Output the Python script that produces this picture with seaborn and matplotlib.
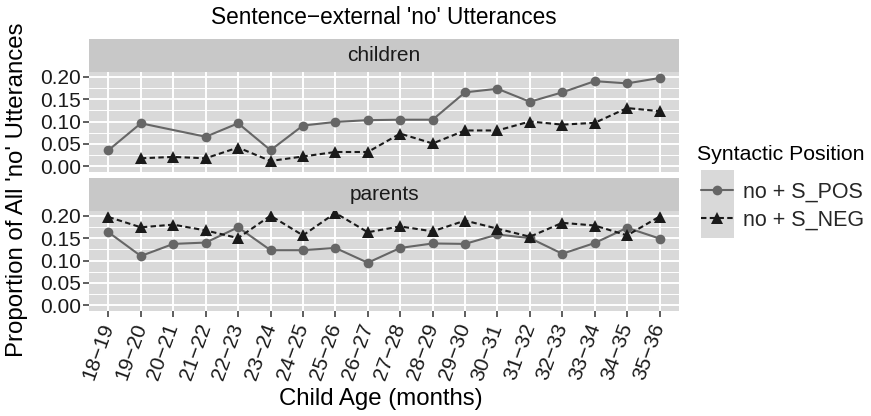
import numpy as np
import pandas as pd
import matplotlib
matplotlib.use("Agg")
import matplotlib.pyplot as plt
import seaborn as sns
from matplotlib.lines import Line2D
from matplotlib.patches import Rectangle

# ---------------- data ----------------
age_bins = ["18−19", "19−20", "20−21", "21−22", "22−23", "23−24", "24−25", "25−26",
            "26−27", "27−28", "28−29", "29−30", "30−31", "31−32", "32−33", "33−34",
            "34−35", "35−36"]
nan = np.nan
children_pos = [0.036, 0.096, nan, 0.066, 0.096, 0.036, 0.091, 0.099, 0.103, 0.104,
                0.104, 0.165, 0.173, 0.144, 0.165, 0.190, 0.185, 0.197]
children_neg = [nan, 0.018, 0.021, 0.018, 0.042, 0.012, 0.022, 0.032, 0.032, 0.073,
                0.051, 0.080, 0.080, 0.100, 0.093, 0.097, 0.130, 0.123]
parents_pos = [0.163, 0.110, 0.137, 0.140, 0.174, 0.123, 0.123, 0.128, 0.095, 0.128,
               0.138, 0.137, 0.158, 0.150, 0.115, 0.139, 0.173, 0.149]
parents_neg = [0.197, 0.174, 0.180, 0.167, 0.150, 0.200, 0.156, 0.206, 0.163, 0.176,
               0.165, 0.189, 0.171, 0.153, 0.184, 0.178, 0.156, 0.198]
speakers = ["children", "parents"]
positions = ["no + S_POS", "no + S_NEG"]

rows = []
for spk, pos_vals, neg_vals in [("children", children_pos, children_neg),
                                ("parents", parents_pos, parents_neg)]:
    for lab, vals in [(positions[0], pos_vals), (positions[1], neg_vals)]:
        for i, (age, v) in enumerate(zip(age_bins, vals)):
            rows.append({"speaker": spk, "age": age, "xpos": i,
                         "Syntactic Position": lab, "prop": v})
df = pd.DataFrame(rows).dropna()

# ---------------- style ----------------
sns.set_style("white")
plt.rcParams["font.family"] = ["Liberation Sans", "DejaVu Sans"]

W, H = 871, 416
fig = plt.figure(figsize=(W / 100, H / 100), dpi=100)

panel_bg = "#D9D9D9"
strip_bg = "#C8C8C8"
col_pos = "#666666"
col_neg = "#1A1A1A"
palette = {positions[0]: col_pos, positions[1]: col_neg}
markers = {positions[0]: "o", positions[1]: "^"}
dashes = {positions[0]: "", positions[1]: (2.6, 1.6)}

def fx(px):
    return px / W

def fy(py):
    return 1 - py / H

left, right = 89, 679
panels = {"children": (71.5, 171.5), "parents": (210.5, 310.5)}
strips = {"children": (39, 71.5), "parents": (178, 210.5)}

for spk in speakers:
    top, bot = panels[spk]
    ax = fig.add_axes([fx(left), fy(bot), fx(right - left), (bot - top) / H])
    ax.set_facecolor(panel_bg)
    sub = df[df["speaker"] == spk]
    sns.lineplot(data=sub, x="xpos", y="prop", hue="Syntactic Position",
                 style="Syntactic Position", hue_order=positions, style_order=positions,
                 palette=palette, markers=markers, dashes=dashes, linewidth=1.5,
                 markersize=7, markeredgewidth=0, sort=True, legend=False, ax=ax)
    for ln in ax.lines:
        if ln.get_marker() == "^":
            ln.set_markersize(8.5)
        ln.set_zorder(3)
    ax.set_xlim(-0.6, len(age_bins) - 0.4)
    ax.set_ylim(-0.0115, 0.2115)
    ax.set_xticks(range(len(age_bins)))
    ax.set_yticks([0, 0.05, 0.10, 0.15, 0.20])
    ax.set_yticklabels(["0.00", "0.05", "0.10", "0.15", "0.20"])
    ax.set_yticks([0.025, 0.075, 0.125, 0.175], minor=True)
    ax.grid(which="major", color="white", linewidth=1.4)
    ax.grid(which="minor", axis="y", color="white", linewidth=0.7)
    ax.set_axisbelow(True)
    for s in ax.spines.values():
        s.set_visible(False)
    ax.tick_params(axis="both", which="major", length=4, width=1.1, color="#333333",
                   labelsize=15, labelcolor="#1a1a1a", pad=2, left=True, bottom=True)
    ax.tick_params(axis="x", pad=6)
    ax.tick_params(axis="y", which="minor", length=0)
    ax.set_xlabel("")
    ax.set_ylabel("")
    if spk == "children":
        ax.tick_params(axis="x", length=0, labelbottom=False)
    else:
        ax.set_xticklabels(age_bins, rotation=70, ha="right", va="center",
                           rotation_mode="anchor")
    # strip
    st, sb = strips[spk]
    sax = fig.add_axes([fx(left), fy(sb), fx(right - left), (sb - st) / H])
    sax.set_facecolor(strip_bg)
    sax.set_xticks([]); sax.set_yticks([])
    for s in sax.spines.values():
        s.set_visible(False)
    sax.text(0.5, 0.5, spk, ha="center", va="center", fontsize=15,
             color="#1a1a1a", transform=sax.transAxes)

fig.text(fx((left + right) / 2), fy(18), "Sentence−external 'no' Utterances",
         ha="center", va="center", fontsize=16.3, color="black")
fig.text(fx(381), fy(399), "Child Age (months)", ha="center", va="center",
         fontsize=17.3, color="black")
fig.text(fx(17), fy(190), "Proportion of All 'no' Utterances", ha="center",
         va="center", rotation=90, fontsize=17.3, color="black")

# legend
fig.text(fx(697), fy(155), "Syntactic Position", ha="left", va="center",
         fontsize=15.3, color="black")
handles = [Line2D([], [], color=col_pos, marker="o", markersize=7, markeredgewidth=0,
                  linewidth=1.5),
           Line2D([], [], color=col_neg, marker="^", markersize=8.5, markeredgewidth=0,
                  linewidth=1.5, dashes=(2.6, 1.6))]
leg = fig.legend(handles, positions, loc="upper left",
                 bbox_to_anchor=(fx(701), fy(182)), frameon=False, fontsize=15.5,
                 handlelength=1.5, handletextpad=0.45,
                 labelspacing=0.32, borderpad=0, borderaxespad=0)
fig.canvas.draw()
r = fig.canvas.get_renderer()
exts = [l.get_window_extent(r) for l in leg.get_lines()]
cx = np.mean([(e.x0 + e.x1) / 2 for e in exts])
ys = [(e.y0 + e.y1) / 2 for e in exts]
y_lo = min(ys) - 20; y_hi = max(ys) + 20
fig.add_artist(Rectangle(((cx - 16.5) / W, y_lo / H), 33 / W, (y_hi - y_lo) / H,
                         transform=fig.transFigure, facecolor=panel_bg,
                         edgecolor="none", zorder=0))

fig.savefig("out.png", dpi=100)
